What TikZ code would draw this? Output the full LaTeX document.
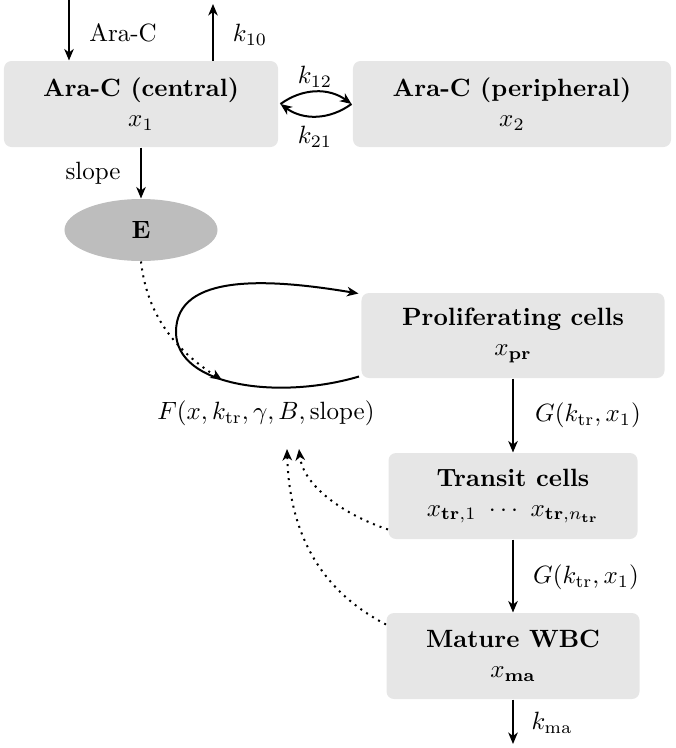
\documentclass[tikz,border=0pt]{standalone}
\usetikzlibrary{arrows.meta,shapes.geometric}
\definecolor{boxgray}{HTML}{E6E6E6}
\definecolor{egray}{HTML}{BDBDBD}
\begin{document}
\begin{tikzpicture}[x=0.4pt,y=-0.4pt,
  box/.style={fill=boxgray,rounded corners=3pt,inner sep=0pt,align=center,minimum height=34.4pt},
  arr/.style={thick,-{Stealth[length=4.6pt,width=3.8pt,inset=1.4pt]}},
  dotarr/.style={arr,dotted},
  lbl/.style={inner sep=0pt}]
\useasboundingbox (0,0) rectangle (675,748);
% nodes
\node[box,minimum width=109.6pt] (c) at (141,104) {\textbf{Ara-C (central)}\\$x_1$};
\node[box,minimum width=127.2pt] (p) at (512,104) {\textbf{Ara-C (peripheral)}\\$x_2$};
\node[ellipse,fill=egray,minimum width=61.2pt,minimum height=24.8pt,inner sep=0pt] (E) at (141,230) {\textbf{E}};
\node[box,minimum width=121.2pt,minimum height=34pt] (pr) at (513,335.5) {\textbf{Proliferating cells}\\$x_{\mathbf{pr}}$};
\node[box,minimum width=99.6pt] (tr) at (513,496) {\textbf{Transit cells}\\$x_{\mathbf{tr},1}\ \cdots\ x_{\mathbf{tr},n_{\mathbf{tr}}}$};
\node[box,minimum width=101.2pt] (ma) at (513,656) {\textbf{Mature WBC}\\$x_{\mathbf{ma}}$};
\node[lbl] (F) at (266,413) {$F(x,k_{\mathrm{tr}},\gamma,B,\mathrm{slope})$};
% labels
\node[lbl] (laraC) at (123,33) {Ara-C};
\node[lbl] (lk10) at (250,35) {$k_{10}$};
\node[lbl] (lk12) at (315,77) {$k_{12}$};
\node[lbl] (lk21) at (315,137) {$k_{21}$};
\node[lbl] (lslope) at (93,173) {slope};
\node[lbl] (lG1) at (588,415) {$G(k_{\mathrm{tr}},x_1)$};
\node[lbl] (lG2) at (586,577) {$G(k_{\mathrm{tr}},x_1)$};
\node[lbl] (lkma) at (552,723) {$k_{\mathrm{ma}}$};
% coordinates
\coordinate (ain) at (69,0);
\coordinate (kout) at (213,4);
\coordinate (mout) at (513,744);
\coordinate (ll) at (176,332);
\coordinate (fe) at (222,380);
\coordinate (f1) at (287,449);
\coordinate (f2) at (299,449);
% connectors
\draw[arr] (ain) -- (ain |- c.north);
\draw[arr] (kout |- c.north) -- (kout);
\draw[arr] ([xshift=0.8pt]c.east) to[bend left=36] ([xshift=-0.4pt]p.west);
\draw[arr] ([xshift=-0.4pt]p.west) to[bend left=36] ([xshift=0.8pt]c.east);
\draw[arr] (c.south -| E.north) -- (E.north);
\draw[arr] ([shift={(-0.8pt,0.8pt)}]pr.south west) .. controls (280,400) and (176,387) .. (ll)
  .. controls (176,272) and (272,279) .. ([shift={(-1pt,-0.4pt)}]pr.north west);
\draw[dotarr] (E.south) .. controls (147,315) and (175,350) .. (fe);
\draw[arr] (pr.south) -- (tr.north);
\draw[arr] (tr.south) -- (ma.north);
\draw[arr] (ma.south) -- (mout);
\draw[dotarr] ([yshift=4pt]tr.south west) .. controls (342,514) and (303,485) .. (f2);
\draw[dotarr] ([yshift=-4.8pt]ma.north west) .. controls (345,603) and (290,560) .. (f1);
\end{tikzpicture}
\end{document}
